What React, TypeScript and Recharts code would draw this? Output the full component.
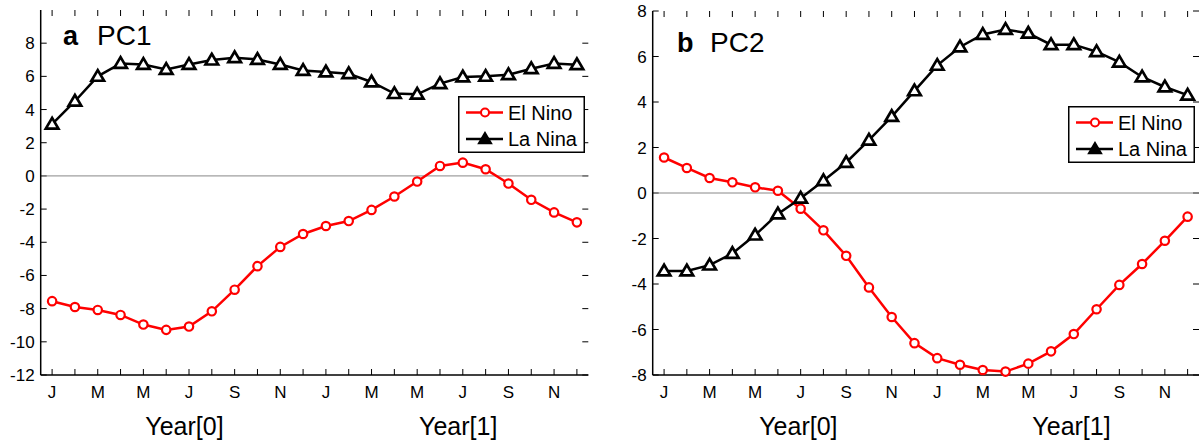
import { LineChart, Line, XAxis, YAxis, ReferenceLine, Legend } from 'recharts'

const months = ['J', 'F', 'M', 'A', 'M', 'J', 'J', 'A', 'S', 'O', 'N', 'D', 'J', 'F', 'M', 'A', 'M', 'J', 'J', 'A', 'S', 'O', 'N', 'D']
const yearLabels = ['Year[0]', 'Year[1]']

// PC1 composites
const pc1ElNino = [-7.55, -7.9, -8.08, -8.38, -8.96, -9.28, -9.08, -8.16, -6.86, -5.44, -4.28, -3.5, -3.02, -2.72, -2.05, -1.24, -0.34, 0.6, 0.8, 0.4, -0.46, -1.44, -2.2, -2.8]
const pc1LaNina = [3.12, 4.5, 6.0, 6.78, 6.72, 6.42, 6.72, 6.98, 7.12, 7.02, 6.72, 6.36, 6.26, 6.16, 5.66, 4.96, 4.92, 5.56, 5.96, 6.0, 6.1, 6.46, 6.78, 6.7]
const pc1Ticks = [-12, -10, -8, -6, -4, -2, 0, 2, 4, 6, 8]
const pc1Years = [6.8, 18.8]

// PC2 composites
const pc2ElNino = [1.56, 1.1, 0.66, 0.47, 0.25, 0.1, -0.69, -1.64, -2.76, -4.15, -5.45, -6.6, -7.26, -7.55, -7.78, -7.85, -7.5, -6.96, -6.2, -5.11, -4.04, -3.12, -2.1, -1.04]
const pc2LaNina = [-3.43, -3.43, -3.17, -2.66, -1.85, -0.92, -0.23, 0.54, 1.34, 2.32, 3.36, 4.49, 5.61, 6.42, 6.97, 7.19, 7.02, 6.52, 6.52, 6.21, 5.75, 5.1, 4.66, 4.3]
const pc2Ticks = [-8, -6, -4, -2, 0, 2, 4, 6, 8]
const pc2Years = [6.9, 18.9]

const monthTicks = months.map((_, i) => i + 1)
const FONT = '"Liberation Sans", Arial, Helvetica, sans-serif'
const TICK = 6

// inward tick marks (MATLAB style) drawn at both ends of a reference line
function VTicks(props: any) {
  const { x1, y1, y2 } = props
  const top = Math.min(y1, y2)
  const bot = Math.max(y1, y2)
  return (
    <g>
      <line x1={x1} x2={x1} y1={top} y2={top + TICK} stroke="#000" strokeWidth={1} />
      <line x1={x1} x2={x1} y1={bot} y2={bot - TICK} stroke="#000" strokeWidth={1} />
    </g>
  )
}

function HTicks(props: any) {
  const { x1, x2, y1 } = props
  const l = Math.min(x1, x2)
  const r = Math.max(x1, x2)
  return (
    <g>
      <line x1={l} x2={l + TICK} y1={y1} y2={y1} stroke="#000" strokeWidth={1} />
      <line x1={r} x2={r - TICK} y1={y1} y2={y1} stroke="#000" strokeWidth={1} />
    </g>
  )
}

function Triangle(props: any) {
  const { cx, cy } = props
  if (cx == null || cy == null) return null
  return (
    <path
      d={`M${cx},${cy - 6.3} L${cx - 6.3},${cy + 4.4} L${cx + 6.3},${cy + 4.4} Z`}
      fill="#fff"
      stroke="#000"
      strokeWidth={2.7}
    />
  )
}

function LegendBox(props: any) {
  const items = props.payload || []
  return (
    <svg width={127} height={57} style={{ display: 'block' }}>
      <rect x={0.75} y={0.75} width={125.5} height={55.5} fill="#fff" stroke="#000" strokeWidth={1.5} />
      {items.map((it: any, i: number) => {
        const y = 16.5 + i * 26.5
        const tri = it.dataKey === 'laNina'
        return (
          <g key={it.value}>
            <line x1={8} x2={45} y1={y} y2={y} stroke={it.color} strokeWidth={2.5} />
            {tri ? (
              <path d={`M27,${y - 6.5} L20.5,${y + 4.5} L33.5,${y + 4.5} Z`} fill="#000" stroke="#000" strokeWidth={1.5} />
            ) : (
              <circle cx={27} cy={y} r={4} fill="#fff" stroke={it.color} strokeWidth={2} />
            )}
            <text x={50} y={y + 7} fontSize={20} fontFamily={FONT} fill="#000">
              {it.value}
            </text>
          </g>
        )
      })}
    </svg>
  )
}

type PanelProps = {
  elNino: number[]
  laNina: number[]
  yDomain: [number, number]
  yTicks: number[]
  yearTicks: number[]
  left: number
  width: number
  top: number
  right: number
  yWidth: number
  legendLeft: number
  legendTop: number
}

function Panel(p: PanelProps) {
  const data = months.map((_, i) => ({ m: i + 1, elNino: p.elNino[i], laNina: p.laNina[i] }))
  const axisLine = { stroke: '#000', strokeWidth: 1.5 }
  return (
    <div style={{ position: 'absolute', left: p.left, top: 0 }}>
      <LineChart width={p.width} height={441} data={data} margin={{ top: p.top, right: p.right, bottom: 0, left: 0 }}>
        <XAxis
          xAxisId="m"
          dataKey="m"
          type="number"
          domain={[0.5, 24.5]}
          ticks={monthTicks}
          interval={0}
          height={30}
          tickSize={0}
          tickMargin={11}
          tickFormatter={(v: number) => (v % 2 === 1 ? months[v - 1] : '')}
          tick={{ fill: '#000', fontSize: 17, fontFamily: FONT }}
          axisLine={axisLine}
          tickLine={false}
        />
        <XAxis
          xAxisId="yr"
          dataKey="m"
          type="number"
          domain={[0.5, 24.5]}
          ticks={p.yearTicks}
          interval={0}
          height={36}
          tickSize={0}
          tickMargin={12}
          tickFormatter={(v: number) => yearLabels[p.yearTicks.indexOf(v)]}
          tick={{ fill: '#000', fontSize: 25, fontFamily: FONT }}
          axisLine={false}
          tickLine={false}
        />
        <XAxis
          xAxisId="top"
          orientation="top"
          dataKey="m"
          type="number"
          domain={[0.5, 24.5]}
          height={0}
          tick={false}
          axisLine={axisLine}
          tickLine={false}
        />
        <YAxis
          yAxisId="v"
          type="number"
          domain={p.yDomain}
          ticks={p.yTicks}
          interval={0}
          width={p.yWidth}
          tickSize={0}
          tickMargin={6}
          tick={{ fill: '#000', fontSize: 17, fontFamily: FONT }}
          axisLine={axisLine}
          tickLine={false}
        />
        <YAxis
          yAxisId="r"
          orientation="right"
          type="number"
          domain={p.yDomain}
          width={0}
          tick={false}
          axisLine={axisLine}
          tickLine={false}
        />
        {monthTicks.map((m) => (
          <ReferenceLine key={`mx${m}`} xAxisId="m" yAxisId="v" x={m} shape={(s: any) => <VTicks {...s} />} />
        ))}
        {p.yTicks.map((v) => (
          <ReferenceLine key={`vy${v}`} xAxisId="m" yAxisId="v" y={v} shape={(s: any) => <HTicks {...s} />} />
        ))}
        <ReferenceLine xAxisId="m" yAxisId="v" y={0} stroke="#888" strokeWidth={1} />
        <Legend
          layout="vertical"
          align="center"
          verticalAlign="middle"
          content={<LegendBox />}
          wrapperStyle={{ left: p.legendLeft, top: p.legendTop, width: 127, height: 57 }}
        />
        <Line
          xAxisId="m"
          yAxisId="v"
          dataKey="elNino"
          name="El Nino"
          stroke="#ff0000"
          strokeWidth={2.5}
          dot={{ r: 4.2, fill: '#fff', stroke: '#ff0000', strokeWidth: 2.2 }}
          activeDot={false}
          isAnimationActive={false}
        />
        <Line
          xAxisId="m"
          yAxisId="v"
          dataKey="laNina"
          name="La Nina"
          stroke="#000"
          strokeWidth={2.5}
          dot={<Triangle />}
          activeDot={false}
          isAnimationActive={false}
        />
      </LineChart>
    </div>
  )
}

export default function App() {
  return (
    <div style={{ position: 'absolute', left: 0, top: 0, width: 1204, height: 441, background: '#fff' }}>
      <Panel
        elNino={pc1ElNino}
        laNina={pc1LaNina}
        yDomain={[-12, 10]}
        yTicks={pc1Ticks}
        yearTicks={pc1Years}
        left={0}
        width={600}
        top={10}
        right={11.7}
        yWidth={40.7}
        legendLeft={457.5}
        legendTop={95.5}
      />
      <Panel
        elNino={pc2ElNino}
        laNina={pc2LaNina}
        yDomain={[-8, 8]}
        yTicks={pc2Ticks}
        yearTicks={pc2Years}
        left={600}
        width={604}
        top={11}
        right={5}
        yWidth={52.7}
        legendLeft={468}
        legendTop={105.5}
      />
      <svg width={1204} height={441} style={{ position: 'absolute', left: 0, top: 0, pointerEvents: 'none' }}>
        <text x={63} y={45} fontSize={27} fontFamily={FONT} fontWeight="bold" fill="#000">a</text>
        <text x={97} y={45} fontSize={28} fontFamily={FONT} fill="#000">PC1</text>
        <text x={677} y={52} fontSize={27} fontFamily={FONT} fontWeight="bold" fill="#000">b</text>
        <text x={710} y={52} fontSize={28} fontFamily={FONT} fill="#000">PC2</text>
      </svg>
    </div>
  )
}
